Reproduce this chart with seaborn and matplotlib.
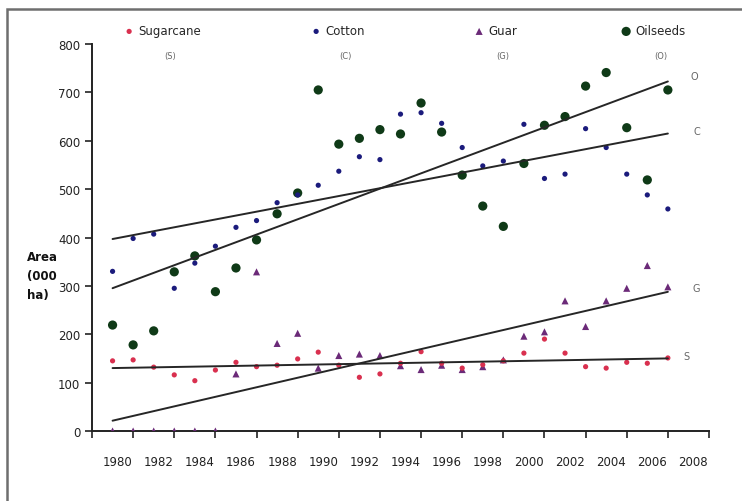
import numpy as np
import pandas as pd
import matplotlib
matplotlib.use("Agg")
import matplotlib.pyplot as plt
import matplotlib.transforms as mtransforms
from matplotlib.patches import Rectangle
import seaborn as sns

# Area under crops, thousand hectares
years = list(range(1980, 2008))
sugarcane = [145, 147, 132, 116, 104, 126, 142, 133, 136, 149, 163, 136, 111, 118,
             140, 164, 140, 130, 137, 145, 161, 190, 161, 133, 130, 142, 140, 151]
cotton = [330, 398, 407, 295, 347, 382, 421, 435, 472, 488, 508, 537, 567, 561,
          655, 658, 636, 586, 548, 558, 634, 522, 531, 625, 586, 531, 488, 459]
guar = [0, 0, 0, 0, 0, 0, 118, 329, 181, 202, 130, 156, 159, 156,
        135, 127, 136, 127, 133, 147, 196, 205, 269, 216, 269, 295, 342, 298]
oilseeds = [219, 178, 207, 329, 362, 288, 337, 395, 449, 492, 705, 593, 605, 623,
            614, 678, 618, 529, 465, 423, 553, 632, 650, 713, 741, 627, 519, 705]

series_names = ["Sugarcane", "Cotton", "Guar", "Oilseeds"]
series_codes = ["S", "C", "G", "O"]
y_ticks = list(range(0, 801, 100))
x_labels = list(range(1980, 2009, 2))

df = pd.DataFrame({"Year": years, "Sugarcane": sugarcane, "Cotton": cotton,
                   "Guar": guar, "Oilseeds": oilseeds})

sns.set_theme(style="white")
plt.rcParams["font.family"] = ["DejaVu Sans"]

fig = plt.figure(figsize=(7.42, 5.02), dpi=100)
ax = fig.add_axes([92 / 742, 70 / 502, 617 / 742, 387 / 502])

styles = {
    "Oilseeds": dict(marker="o", color="#0f3a17", s=44),
    "Cotton": dict(marker="o", color="#1b1b7c", s=14),
    "Guar": dict(marker="^", color="#6b2a78", s=26),
    "Sugarcane": dict(marker="o", color="#d9304f", s=14),
}
draw_order = ["Oilseeds", "Cotton", "Guar", "Sugarcane"]
for name in draw_order:
    st = styles[name]
    sns.scatterplot(data=df, x="Year", y=name, ax=ax, marker=st["marker"],
                    color=st["color"], s=st["s"], edgecolor="none",
                    label=name, zorder=3, legend=False)

# linear trend lines with end labels
end_vals = {}
for name in series_names:
    sns.regplot(data=df, x="Year", y=name, ax=ax, scatter=False, ci=None,
                truncate=True, line_kws=dict(color="#262626", lw=1.4, zorder=4))
    line = ax.lines[-1]
    end_vals[name] = line.get_ydata()[-1]

label_offsets = {"Sugarcane": (2007.9, 6), "Cotton": (2008.4, 6),
                 "Guar": (2008.4, 8), "Oilseeds": (2008.3, 12)}
for name, code in zip(series_names, series_codes):
    xo, dy = label_offsets[name]
    ax.text(xo, end_vals[name] + dy, code, fontsize=7, color="#666666",
            ha="center", va="center")

ax.set_xlim(1979, 2009)
ax.set_ylim(0, 800)
ax.set_yticks(y_ticks)
ax.set_xticks(list(range(1979, 2010, 2)))
ax.set_xticklabels([])
ax.set_xticks(x_labels, minor=True)
ax.set_xticklabels([str(y) for y in x_labels], minor=True)
ax.tick_params(axis="x", which="major", direction="out", length=5, width=1.2,
               color="#222222", bottom=True)
ax.tick_params(axis="x", which="minor", length=0, pad=17, labelsize=8.5,
               labelcolor="#222222", bottom=True)
ax.tick_params(axis="y", direction="out", length=5, width=1.2, color="#222222",
               pad=3.5, labelsize=8.5, labelcolor="#222222", left=True)
shift = mtransforms.ScaledTranslation(5 / 100, 0, fig.dpi_scale_trans)
for lab in ax.get_xticklabels(minor=True):
    lab.set_transform(lab.get_transform() + shift)

ax.set_xlabel("")
ax.set_ylabel("")
for side in ["top", "right"]:
    ax.spines[side].set_visible(False)
for side in ["left", "bottom"]:
    ax.spines[side].set_color("#222222")
    ax.spines[side].set_linewidth(1.4)

fig.text(27 / 742, 1 - 277 / 502, "Area\n(000\nha)", fontsize=8.5,
         fontweight="bold", ha="left", va="center", linespacing=1.6,
         color="#111111")

# legend entries along the top, each with its code underneath
handles, labels = ax.get_legend_handles_labels()
hmap = dict(zip(labels, handles))
marker_x = {"Sugarcane": 129, "Cotton": 316, "Guar": 479, "Oilseeds": 626}
legends = []
for name in series_names:
    leg = fig.legend(handles=[hmap[name]], labels=[name], loc="center left",
                     bbox_to_anchor=((marker_x[name] - 4) / 742, 1 - 32 / 502),
                     frameon=False, borderpad=0, borderaxespad=0,
                     handlelength=0.7, handletextpad=0.45, fontsize=8.5,
                     markerscale=1.0)
    legends.append(leg)

fig.canvas.draw()
renderer = fig.canvas.get_renderer()
for leg, code in zip(legends, series_codes):
    bb = leg.get_texts()[0].get_window_extent(renderer)
    cx = (bb.x0 + bb.x1) / 2 / fig.bbox.width
    fig.text(cx, 1 - 56 / 502, f"({code})", fontsize=6, color="#666666",
             ha="center", va="center")

fig.patches.append(Rectangle((7 / 742, -0.1), 1.2, 1 - 10 / 502 + 0.1,
                             transform=fig.transFigure, fill=False,
                             edgecolor="#6e6e6e", lw=1.8, clip_on=False))

fig.savefig("out.png", dpi=100)
